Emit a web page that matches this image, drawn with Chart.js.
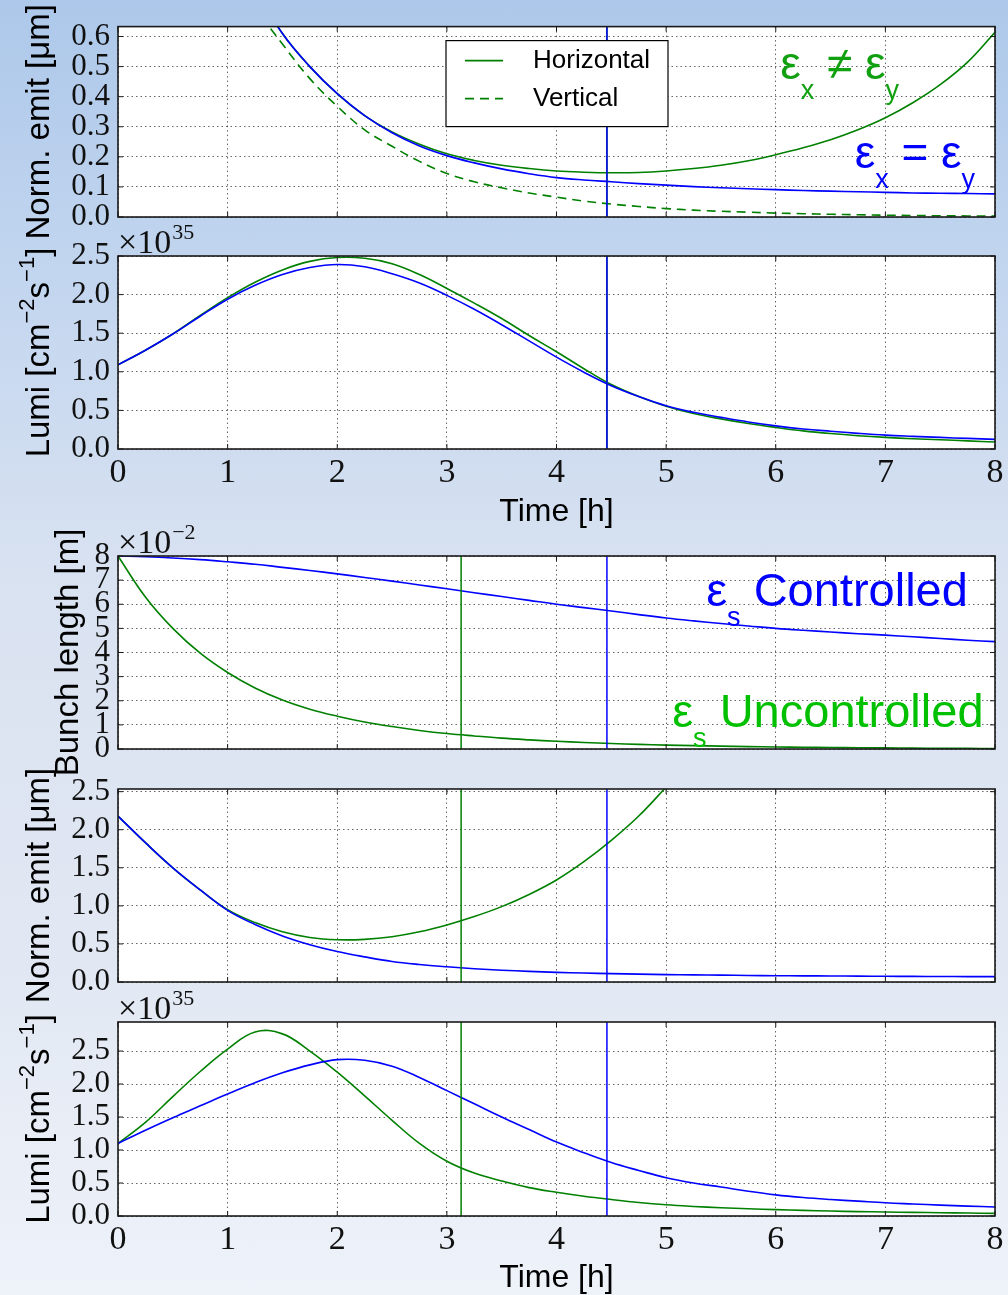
<!DOCTYPE html>
<html>
<head>
<meta charset="utf-8">
<script src="https://cdn.jsdelivr.net/npm/chart.js@4.4.1/dist/chart.umd.min.js"></script>
<style>
  html, body { margin: 0; padding: 0; }
  body {
    width: 1008px; height: 1295px; position: relative; overflow: hidden;
    background: linear-gradient(to bottom, #adc8ea 0%, #c3d6ef 22%, #d9e2f1 45%, #e2e8f3 75%, #eef2f9 100%);
  }
  canvas { position: absolute; left: 0; top: 0; }
</style>
</head>
<body>
<canvas id="p1" width="1008" height="1295"></canvas>
<canvas id="p2" width="1008" height="1295"></canvas>
<canvas id="p3" width="1008" height="1295"></canvas>
<canvas id="p4" width="1008" height="1295"></canvas>
<canvas id="p5" width="1008" height="1295"></canvas>
<script>
// time grid [h] shared by every curve
const hours = [0, 0.25, 0.5, 0.75, 1, 1.25, 1.5, 1.75, 2, 2.25, 2.5, 2.75, 3, 3.25, 3.5, 3.75,
               4, 4.25, 4.5, 4.75, 5, 5.25, 5.5, 5.75, 6, 6.25, 6.5, 6.75, 7, 7.25, 7.5, 7.75, 8]

// top block: norm. emittance [um]
const emitEqTop  = [2.18, 1.80, 1.48, 1.19, 0.94, 0.76, 0.61, 0.50, 0.41, 0.337, 0.28, 0.236, 0.204, 0.18, 0.16, 0.144,
                    0.131, 0.123, 0.117, 0.111, 0.106, 0.101, 0.097, 0.094, 0.091, 0.088, 0.086, 0.084, 0.082, 0.080, 0.079, 0.078, 0.077]
const emitHorTop = [2.18, 1.80, 1.48, 1.19, 0.94, 0.76, 0.61, 0.50, 0.41, 0.337, 0.283, 0.242, 0.21, 0.188, 0.172, 0.161,
                    0.153, 0.149, 0.147, 0.148, 0.153, 0.161, 0.172, 0.187, 0.207, 0.23, 0.257, 0.29, 0.33, 0.38, 0.44, 0.515, 0.614]
const emitVerTop = [2.18, 1.78, 1.44, 1.14, 0.86, 0.70, 0.575, 0.46, 0.368, 0.29, 0.235, 0.185, 0.145, 0.117, 0.097, 0.08,
                    0.066, 0.053, 0.043, 0.035, 0.028, 0.023, 0.019, 0.016, 0.013, 0.011, 0.009, 0.0075, 0.006, 0.005, 0.004, 0.0035, 0.003]
// top block: luminosity [1e35 cm^-2 s^-1]
const lumiEqTop  = [1.09, 1.28, 1.49, 1.72, 1.94, 2.12, 2.26, 2.35, 2.39, 2.36, 2.27, 2.15, 1.99, 1.81, 1.61, 1.40,
                    1.19, 0.995, 0.82, 0.68, 0.56, 0.475, 0.41, 0.35, 0.30, 0.26, 0.23, 0.203, 0.18, 0.164, 0.15, 0.137, 0.125]
const lumiHorTop = [1.09, 1.28, 1.49, 1.73, 1.96, 2.16, 2.32, 2.43, 2.48, 2.47, 2.40, 2.26, 2.08, 1.89, 1.69, 1.47,
                    1.26, 1.04, 0.835, 0.68, 0.555, 0.46, 0.39, 0.33, 0.28, 0.235, 0.20, 0.172, 0.15, 0.133, 0.12, 0.105, 0.09]

// bottom block: bunch length [1e-2 m]
const blenCtrl   = [8.0, 7.97, 7.92, 7.85, 7.76, 7.66, 7.53, 7.40, 7.26, 7.11, 6.96, 6.80, 6.64, 6.48, 6.32, 6.16,
                    6.0, 5.86, 5.72, 5.57, 5.43, 5.31, 5.2, 5.1, 5.0, 4.92, 4.85, 4.78, 4.72, 4.65, 4.58, 4.51, 4.45]
const blenUnctrl = [8.0, 6.3, 5.0, 3.97, 3.17, 2.53, 2.03, 1.65, 1.36, 1.12, 0.93, 0.77, 0.64, 0.54, 0.45, 0.38,
                    0.32, 0.27, 0.23, 0.19, 0.16, 0.14, 0.12, 0.10, 0.085, 0.072, 0.06, 0.052, 0.045, 0.037, 0.03, 0.025, 0.02]
// bottom block: norm. emittance [um]
const emitCtrlBot   = [2.18, 1.83, 1.50, 1.21, 0.94, 0.755, 0.605, 0.49, 0.40, 0.33, 0.27, 0.23, 0.20, 0.175, 0.155, 0.14,
                       0.127, 0.118, 0.11, 0.103, 0.097, 0.093, 0.09, 0.086, 0.083, 0.081, 0.079, 0.077, 0.075, 0.074, 0.072, 0.071, 0.07]
const emitUnctrlBot = [2.18, 1.83, 1.50, 1.21, 0.95, 0.78, 0.66, 0.585, 0.555, 0.56, 0.595, 0.66, 0.75, 0.86, 0.99, 1.15,
                       1.34, 1.58, 1.86, 2.18, 2.56, null, null, null, null, null, null, null, null, null, null, null, null]
// bottom block: luminosity [1e35]
const lumiCtrlBot   = [1.10, 1.30, 1.49, 1.67, 1.85, 2.02, 2.17, 2.29, 2.37, 2.36, 2.27, 2.10, 1.90, 1.70, 1.50, 1.31,
                       1.12, 0.96, 0.81, 0.69, 0.58, 0.50, 0.44, 0.375, 0.32, 0.28, 0.25, 0.225, 0.20, 0.182, 0.165, 0.15, 0.136]
const lumiUnctrlBot = [1.10, 1.42, 1.81, 2.19, 2.53, 2.79, 2.76, 2.50, 2.18, 1.82, 1.45, 1.10, 0.83, 0.65, 0.53, 0.43,
                       0.36, 0.30, 0.25, 0.205, 0.17, 0.145, 0.125, 0.11, 0.096, 0.085, 0.075, 0.067, 0.06, 0.055, 0.05, 0.045, 0.04]

// end of fill times [h]
const endEq = 4.46, endHor = 4.46, endCtrl = 4.46, endUnctrl = 3.13

// ticks
const xTicks = [0, 1, 2, 3, 4, 5, 6, 7, 8]
const emitTicksTop = [0, 0.1, 0.2, 0.3, 0.4, 0.5, 0.6]
const lumiTicks = [0, 0.5, 1, 1.5, 2, 2.5]
const blenTicks = [0, 1, 2, 3, 4, 5, 6, 7, 8]
const emitTicksBot = [0, 0.5, 1, 1.5, 2, 2.5]

const GREEN = '#008000', BLUE = '#0000ff'
const SERIF = '"Liberation Serif", "DejaVu Serif", serif'
const SANS = '"Liberation Sans", Arial, sans-serif'

function curve(vals, color, dash) {
  return {
    data: hours.map((h, i) => ({ x: h, y: vals[i] })),
    borderColor: color, borderWidth: 1.6, borderDash: dash || [],
    pointRadius: 0, tension: 0.4, fill: false, spanGaps: false
  }
}
function vline(t, top, color) {
  return { data: [{ x: t, y: 0 }, { x: t, y: top }], borderColor: color, borderWidth: 1.5, pointRadius: 0, tension: 0 }
}

// extra drawing per canvas (text notes, multiplier, legend, lumi title)
const extras = {}

const frame = {
  id: 'frame',
  beforeDraw(chart) {
    const { ctx, chartArea: a } = chart
    ctx.save()
    ctx.fillStyle = '#fff'
    ctx.fillRect(a.left, a.top, a.width, a.height)
    ctx.restore()
  },
  afterDraw(chart) {
    const { ctx, chartArea: a, scales: { x, y } } = chart
    ctx.save()
    ctx.strokeStyle = '#1a1a1a'
    ctx.lineWidth = 1
    ctx.beginPath()
    x.ticks.forEach(t => {
      const px = x.getPixelForValue(t.value)
      ctx.moveTo(px, a.bottom); ctx.lineTo(px, a.bottom - 5)
      ctx.moveTo(px, a.top); ctx.lineTo(px, a.top + 5)
    })
    y.ticks.forEach(t => {
      const py = y.getPixelForValue(t.value)
      ctx.moveTo(a.left, py); ctx.lineTo(a.left + 5, py)
      ctx.moveTo(a.right, py); ctx.lineTo(a.right - 5, py)
    })
    ctx.stroke()
    ctx.lineWidth = 1.6
    ctx.strokeRect(a.left, a.top, a.width, a.height)
    ctx.restore()
  }
}

const notes = {
  id: 'notes',
  afterDraw(chart) {
    const ex = extras[chart.canvas.id]
    if (!ex) return
    const { ctx, chartArea: a, scales: { x, y } } = chart
    ctx.save()
    ctx.textBaseline = 'alphabetic'
    ;(ex.notes || []).forEach(n => {
      let px = x.getPixelForValue(n.t)
      const py = y.getPixelForValue(n.v)
      ctx.fillStyle = n.color
      n.runs.forEach(([txt, sub]) => {
        ctx.font = (sub ? 27 : n.size) + 'px ' + SANS
        ctx.fillText(txt, px, py + (sub ? 20 : 0))
        px += ctx.measureText(txt).width
      })
    })
    if (ex.mult) {
      ctx.fillStyle = '#111'
      ctx.font = '34px ' + SERIF
      const base = '\u00d710'
      ctx.fillText(base, a.left, a.top - 3)
      const w = ctx.measureText(base).width
      ctx.font = '22px ' + SERIF
      ctx.fillText(ex.mult, a.left + w + 1, a.top - 17)
    }
    if (ex.legend) {
      const bx = a.left + 328, by = a.top + 14, bw = 222, bh = 86
      ctx.fillStyle = '#fff'
      ctx.fillRect(bx, by, bw, bh)
      ctx.strokeStyle = '#000'
      ctx.lineWidth = 1.2
      ctx.strokeRect(bx, by, bw, bh)
      ex.legend.forEach((it, i) => {
        const ry = by + 20 + i * 38
        ctx.strokeStyle = it.color
        ctx.lineWidth = 1.6
        ctx.setLineDash(it.dash || [])
        ctx.beginPath(); ctx.moveTo(bx + 19, ry); ctx.lineTo(bx + 57, ry); ctx.stroke()
        ctx.setLineDash([])
        ctx.fillStyle = '#000'
        ctx.font = '26px ' + SANS
        ctx.textBaseline = 'middle'
        ctx.fillText(it.label, bx + 87, ry)
        ctx.textBaseline = 'alphabetic'
      })
    }
    if (ex.title) {
      // rotated y title with real superscripts
      const sizes = { 0: 33, 1: 22 }
      let total = 0
      ex.title.forEach(([txt, sup]) => { ctx.font = sizes[sup] + 'px ' + SANS; total += ctx.measureText(txt).width })
      ctx.translate(40, (a.top + a.bottom) / 2)
      ctx.rotate(-Math.PI / 2)
      ctx.fillStyle = '#000'
      ctx.textBaseline = 'middle'
      let px = -total / 2
      ex.title.forEach(([txt, sup]) => {
        ctx.font = sizes[sup] + 'px ' + SANS
        ctx.fillText(txt, px, sup ? -12 : 0)
        px += ctx.measureText(txt).width
      })
    }
    ctx.restore()
  }
}

const gridOpt = { color: 'rgba(0,0,0,0.6)', lineWidth: 1, drawTicks: false }
const borderOpt = { display: false, dash: [1.5, 3] }

function panel(id, p) {
  const xH = p.xTitle ? p.xH : 0
  return new Chart(document.getElementById(id), {
    type: 'line',
    data: { datasets: p.datasets },
    options: {
      responsive: false, animation: false, events: [],
      layout: { padding: { left: 0, right: 13, top: p.top, bottom: 1295 - p.bottom - xH } },
      scales: {
        x: {
          type: 'linear', min: 0, max: 8,
          afterBuildTicks: s => { s.ticks = xTicks.map(v => ({ value: v })) },
          afterFit: s => { s.height = xH },
          grid: gridOpt, border: borderOpt,
          ticks: {
            display: !!p.xTitle, autoSkip: false, maxRotation: 0, padding: 4, color: '#111',
            font: { family: SERIF, size: 34 }, callback: v => String(v)
          },
          title: {
            display: !!p.xTitle, text: 'Time [h]', color: '#000',
            font: { family: SANS, size: 32, lineHeight: 1 }, padding: 0
          }
        },
        y: {
          type: 'linear', min: 0, max: p.yMax,
          afterBuildTicks: s => { s.ticks = p.yTicks.map(v => ({ value: v })) },
          afterFit: s => { s.width = 118 },
          grid: gridOpt, border: borderOpt,
          ticks: {
            autoSkip: false, padding: 8, color: '#111',
            font: { family: SERIF, size: 31 }, callback: p.yFmt
          },
          title: {
            display: !!p.yTitle, text: p.yTitle || '', color: '#000',
            font: { family: SANS, size: 33, lineHeight: 1 }, padding: { top: p.titlePad || 0, bottom: 0 }
          }
        }
      },
      plugins: { legend: { display: false }, tooltip: { enabled: false } }
    },
    plugins: [frame, notes]
  })
}

const fmt1 = v => v.toFixed(1)
const fmt0 = v => v.toFixed(0)
const lumiTitle = [['Lumi [cm', 0], ['\u22122', 1], ['s', 0], ['\u22121', 1], [']', 0]]

extras.p1 = {
  notes: [
    { t: 6.04, v: 0.459, size: 46, color: '#10a010', runs: [['\u03b5', 0], ['x', 1], [' \u2260 ', 0], ['\u03b5', 0], ['y', 1]] },
    { t: 6.72, v: 0.164, size: 46, color: BLUE, runs: [['\u03b5', 0], ['x', 1], [' = ', 0], ['\u03b5', 0], ['y', 1]] }
  ],
  legend: [
    { label: 'Horizontal', color: GREEN },
    { label: 'Vertical', color: GREEN, dash: [9, 6] }
  ]
}
extras.p2 = { mult: '35', title: lumiTitle }
extras.p3 = {
  mult: '\u22122',
  notes: [
    { t: 5.365, v: 5.93, size: 47, color: BLUE, runs: [['\u03b5', 0], ['s', 1], [' Controlled', 0]] },
    { t: 5.055, v: 0.91, size: 47, color: '#00c000', runs: [['\u03b5', 0], ['s', 1], [' Uncontrolled', 0]] }
  ]
}
extras.p5 = { mult: '35', title: lumiTitle }

const emitMaxTop = 0.633, lumiMaxTop = 2.5, blenMax = 8, emitMaxBot = 2.535, lumiMaxBot = 2.94

panel('p1', {
  top: 24, bottom: 217, yMax: emitMaxTop, yTicks: emitTicksTop, yFmt: fmt1,
  yTitle: 'Norm. emit [\u03bcm]', titlePad: 23,
  datasets: [
    vline(endEq, emitMaxTop, BLUE), vline(endHor, emitMaxTop, GREEN),
    curve(emitEqTop, BLUE), curve(emitHorTop, GREEN), curve(emitVerTop, GREEN, [9, 6])
  ]
})
panel('p2', {
  top: 256, bottom: 449, yMax: lumiMaxTop, yTicks: lumiTicks, yFmt: fmt1,
  xTitle: true, xH: 79,
  datasets: [
    vline(endEq, lumiMaxTop, BLUE), vline(endHor, lumiMaxTop, GREEN),
    curve(lumiEqTop, BLUE), curve(lumiHorTop, GREEN)
  ]
})
panel('p3', {
  top: 556, bottom: 749, yMax: blenMax, yTicks: blenTicks, yFmt: fmt0,
  yTitle: 'Bunch length [m]', titlePad: 52,
  datasets: [
    vline(endCtrl, blenMax, BLUE), vline(endUnctrl, blenMax, GREEN),
    curve(blenCtrl, BLUE), curve(blenUnctrl, GREEN)
  ]
})
panel('p4', {
  top: 789, bottom: 982, yMax: emitMaxBot, yTicks: emitTicksBot, yFmt: fmt1,
  yTitle: 'Norm. emit [\u03bcm]', titlePad: 23,
  datasets: [
    vline(endCtrl, emitMaxBot, BLUE), vline(endUnctrl, emitMaxBot, GREEN),
    curve(emitCtrlBot, BLUE), curve(emitUnctrlBot, GREEN)
  ]
})
panel('p5', {
  top: 1022, bottom: 1216, yMax: lumiMaxBot, yTicks: lumiTicks, yFmt: fmt1,
  xTitle: true, xH: 78,
  datasets: [
    vline(endCtrl, lumiMaxBot, BLUE), vline(endUnctrl, lumiMaxBot, GREEN),
    curve(lumiCtrlBot, BLUE), curve(lumiUnctrlBot, GREEN)
  ]
})
</script>
</body>
</html>
